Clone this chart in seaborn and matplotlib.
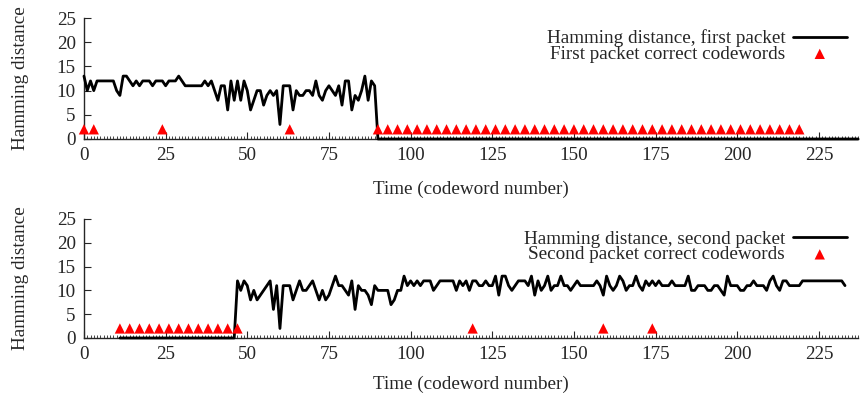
import numpy as np
import pandas as pd
import matplotlib
matplotlib.use("Agg")
import matplotlib.pyplot as plt
from matplotlib.ticker import MultipleLocator
import seaborn as sns

# ---------------- data ----------------
first_noisy = [13, 10, 12, 10, 12, 12, 12, 12, 12, 12,
               10, 9, 13, 13, 12, 11, 12, 11, 12, 12,
               12, 11, 12, 12, 12, 11, 12, 12, 12, 13,
               12, 11, 11, 11, 11, 11, 11, 12, 11, 12,
               10, 8, 11, 11, 6, 12, 8, 12, 8, 12,
               10, 6, 8, 10, 10, 7, 9, 10, 9, 10,
               3, 11, 11, 11, 6, 10, 9, 9, 10, 10,
               9, 12, 9, 8, 10, 11, 10, 9, 11, 7,
               12, 12, 6, 9, 8, 10, 13, 8, 12, 11]
first_x = list(range(0, 238))
first_vals = first_noisy + [0] * (238 - len(first_noisy))
first_correct = [0, 3, 24, 63] + list(range(90, 220, 3))

second_start = 11
second_vals = ([0] * 36 +  # 11..46
               [12, 10, 12, 11, 8, 10, 8, 9, 10, 11,   # 47-56
                12, 6, 11, 2, 11, 11, 11, 8, 10, 12,   # 57-66
                10, 10, 11, 12, 10, 8, 10, 8, 9, 11,   # 67-76
                13, 11, 11, 10, 9, 12, 6, 11, 10, 10,  # 77-86
                9, 7, 11, 10, 10, 10, 10, 7, 8, 10,    # 87-96
                10, 13, 11, 12, 11, 12, 11, 12, 12, 12,  # 97-106
                10, 11, 12, 12, 12, 12, 12, 10, 12, 11,  # 107-116
                12, 10, 12, 12, 11, 11, 12, 11, 11, 13,  # 117-126
                9, 13, 13, 11, 10, 11, 12, 12, 12, 11,   # 127-136
                13, 9, 12, 10, 11, 13, 10, 11, 11, 13,   # 137-146
                11, 11, 10, 11, 12, 11, 11, 11, 11, 11,  # 147-156
                12, 11, 9, 13, 11, 10, 11, 13, 12, 10,   # 157-166
                11, 11, 13, 11, 10, 12, 11, 12, 11, 12,  # 167-176
                11, 11, 11, 12, 11, 11, 11, 11, 13, 10,  # 177-186
                10, 11, 11, 11, 10, 10, 11, 11, 10, 9,   # 187-196
                13, 11, 11, 11, 10, 10, 11, 11, 12, 11,  # 197-206
                11, 11, 10, 12, 13, 11, 10, 12, 12, 11,  # 207-216
                11, 11, 11, 12, 12, 12, 12, 12, 12, 12,  # 217-226
                12, 12, 12, 12, 12, 12, 11])             # 227-233
second_x = list(range(second_start, second_start + len(second_vals)))
second_correct = list(range(11, 48, 3)) + [119, 159, 174]

x_ticks = [0, 25, 50, 75, 100, 125, 150, 175, 200, 225]
y_ticks = [0, 5, 10, 15, 20, 25]
marker_level = 2

panels = [
    ("Hamming distance, first packet", "First packet correct codewords",
     first_x, first_vals, first_correct),
    ("Hamming distance, second packet", "Second packet correct codewords",
     second_x, second_vals, second_correct),
]

# ---------------- style ----------------
sns.set_style("ticks")
plt.rcParams["font.family"] = ["Liberation Serif", "DejaVu Serif"]
FS = 13.8
plt.rcParams["font.size"] = FS

fig = plt.figure(figsize=(8.63, 3.96), dpi=100)
boxes = [[0.0973, 0.649, 0.897, 0.3055], [0.0973, 0.1465, 0.897, 0.3005]]

for i, (box, (lab_line, lab_pts, xs, ys, cx)) in enumerate(zip(boxes, panels)):
    ax = fig.add_axes(box)
    dl = pd.DataFrame({"x": xs, "y": ys})
    dp = pd.DataFrame({"x": cx, "y": [marker_level] * len(cx)})
    sns.lineplot(data=dl, x="x", y="y", ax=ax, color="black", linewidth=2.0,
                 label=lab_line, clip_on=False, zorder=3)
    sns.scatterplot(data=dp, x="x", y="y", ax=ax, color="red", marker="^",
                    s=55, edgecolor="none", label=lab_pts, clip_on=False, zorder=4)
    ax.set_xlim(0, 237)
    ax.set_ylim(0, 25)
    ax.set_xticks(x_ticks)
    ax.set_yticks(y_ticks)
    ax.xaxis.set_minor_locator(MultipleLocator(1))
    ax.tick_params(axis="both", which="major", direction="in", length=5,
                   width=0.8, labelsize=FS, pad=6)
    ax.tick_params(axis="x", which="minor", direction="in", length=2.5, width=0.6)
    sns.despine(ax=ax)
    for sp in ("left", "bottom"):
        ax.spines[sp].set_linewidth(1.0)
    ax.set_xlabel("Time (codeword number)", fontsize=FS, labelpad=12 if i == 0 else 9)
    ax.set_ylabel("Hamming distance", fontsize=FS, labelpad=20)
    leg = ax.legend(loc="upper right", bbox_to_anchor=(1.0, 1.0), frameon=False,
                    markerfirst=False, handlelength=2.8, fontsize=FS,
                    labelspacing=-0.1, borderaxespad=0.2, handletextpad=0.4)
    for t in leg.get_texts():
        t.set_ha("right")

fig.savefig("out.png", dpi=100)
